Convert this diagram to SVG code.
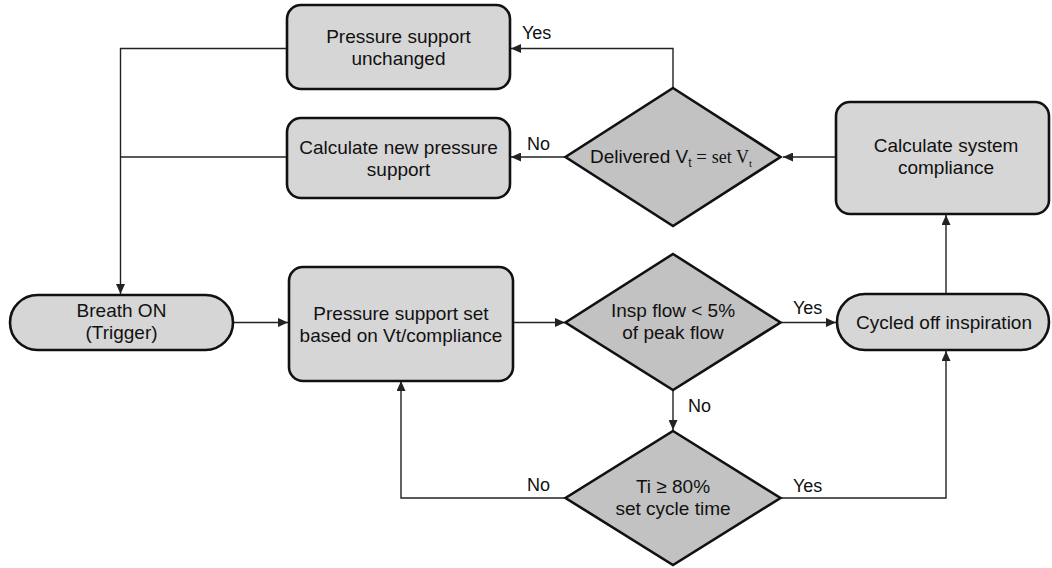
<svg xmlns="http://www.w3.org/2000/svg" width="1052" height="568" viewBox="0 0 1052 568">
<defs>
<style>
.box{fill:#d6d6d6;stroke:#111;stroke-width:2.6}
.dia{fill:#c2c2c2;stroke:#111;stroke-width:2.6}
.t{font-family:"Liberation Sans",Arial,sans-serif;font-size:19px;fill:#111;text-anchor:middle}
.lbl{font-family:"Liberation Sans",Arial,sans-serif;font-size:18px;fill:#111}
.ser{font-family:"Liberation Serif","Times New Roman",serif}
.c{fill:none;stroke:#222;stroke-width:1.4}
</style>
<marker id="ah" markerUnits="userSpaceOnUse" markerWidth="11" markerHeight="9" refX="10" refY="4.5" orient="auto">
<path d="M0,0 L10,4.5 L0,9 z" fill="#222"/>
</marker>
</defs>
<rect width="1052" height="568" fill="#fff"/>

<g id="connectors">
<path class="c" d="M673,88 V48.5 H511" marker-end="url(#ah)"/>
<path class="c" d="M566,157 H511" marker-end="url(#ah)"/>
<path class="c" d="M836,157 H783" marker-end="url(#ah)"/>
<path class="c" d="M287,48.5 H120.5 V294" marker-end="url(#ah)"/>
<path class="c" d="M287,157 H120.5"/>
<path class="c" d="M233,322.5 H288" marker-end="url(#ah)"/>
<path class="c" d="M513,322.5 H565" marker-end="url(#ah)"/>
<path class="c" d="M781,322.5 H836" marker-end="url(#ah)"/>
<path class="c" d="M673,390 V430" marker-end="url(#ah)"/>
<path class="c" d="M566,498 H401 V381" marker-end="url(#ah)"/>
<path class="c" d="M781,498 H946 V351" marker-end="url(#ah)"/>
<path class="c" d="M946,294 V215" marker-end="url(#ah)"/>
</g>

<g id="n-unchanged">
<rect class="box" x="287" y="5" width="223" height="84" rx="14"/>
<text class="t" x="398.5" y="43">Pressure support</text>
<text class="t" x="398.5" y="65">unchanged</text>
</g>

<g id="n-newpressure">
<rect class="box" x="287" y="118" width="223" height="80" rx="14"/>
<text class="t" x="398.5" y="154">Calculate new pressure</text>
<text class="t" x="398.5" y="176">support</text>
</g>

<g id="n-delivered">
<polygon class="dia" points="673,88 780.5,157 673,226 565.5,157"/>
<text x="590" y="163" style="font-family:'Liberation Sans',Arial,sans-serif;font-size:19px;fill:#111">Delivered V<tspan font-size="12" dy="4">t</tspan><tspan class="ser" dy="-4"> = </tspan><tspan class="ser" font-size="18">set V</tspan><tspan class="ser" font-size="11" dy="4">t</tspan></text>
</g>

<g id="n-compliance">
<rect class="box" x="836" y="102" width="213" height="112" rx="14"/>
<text class="t" x="946" y="152">Calculate system</text>
<text class="t" x="946" y="174">compliance</text>
</g>

<g id="n-breath">
<rect class="box" x="10" y="295" width="223" height="55" rx="27.5"/>
<text class="t" x="121.5" y="317">Breath ON</text>
<text class="t" x="121.5" y="339">(Trigger)</text>
</g>

<g id="n-psset">
<rect class="box" x="289" y="267" width="224" height="114" rx="14"/>
<text class="t" x="401" y="320">Pressure support set</text>
<text class="t" x="401" y="342">based on Vt/compliance</text>
</g>

<g id="n-insp">
<polygon class="dia" points="673,254 780.5,322.5 673,390 565.5,322.5"/>
<text class="t" x="673" y="317">Insp flow &lt; 5%</text>
<text class="t" x="673" y="339">of peak flow</text>
</g>

<g id="n-cycled">
<rect class="box" x="837" y="294" width="212" height="56" rx="28"/>
<text class="t" x="944" y="329">Cycled off inspiration</text>
</g>

<g id="n-ti">
<polygon class="dia" points="673,431 780.5,498 673,565 565.5,498"/>
<text class="t" x="673" y="493">Ti ≥ 80%</text>
<text class="t" x="673" y="515">set cycle time</text>
</g>

<g id="labels">
<text class="lbl" x="522" y="39">Yes</text>
<text class="lbl" x="527" y="149.5">No</text>
<text class="lbl" x="793" y="314">Yes</text>
<text class="lbl" x="688" y="412">No</text>
<text class="lbl" x="527" y="491">No</text>
<text class="lbl" x="793" y="491.5">Yes</text>
</g>
</svg>
